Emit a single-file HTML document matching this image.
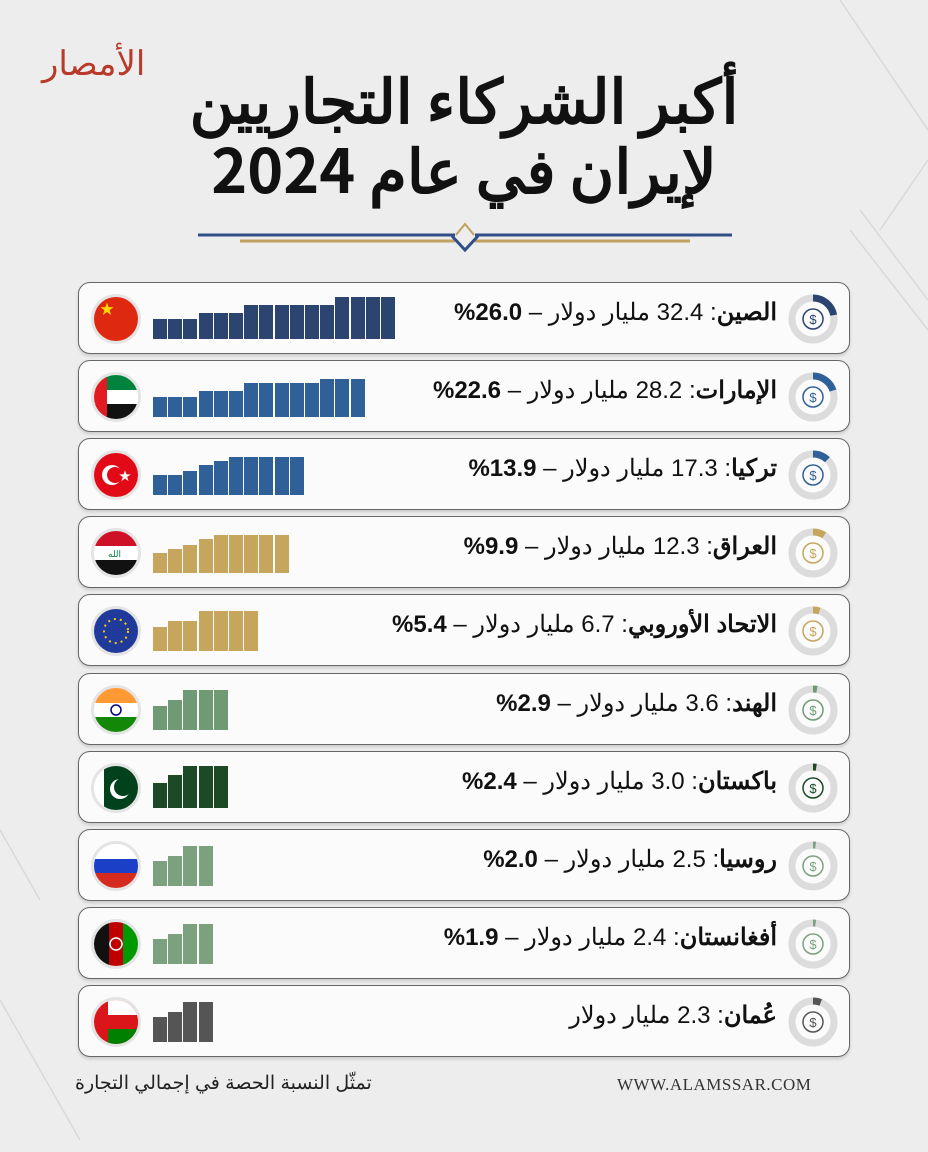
<!DOCTYPE html>
<html><head><meta charset="utf-8">
<style>
body{margin:0;width:928px;height:1152px;overflow:hidden;background:#ecedec;font-family:"Liberation Sans","Noto Sans CJK SC",sans-serif;position:relative}
.t{position:absolute;left:0;width:928px;text-align:center;font-weight:bold;color:#111;font-size:61px;direction:rtl;font-family:"Noto Sans CJK SC","Liberation Sans",sans-serif}
.card{position:absolute;left:78px;width:770px;height:70px;background:#fbfbfb;border:1.5px solid #666;border-radius:12px;box-shadow:0 2px 3px rgba(0,0,0,.15)}
.txt{position:absolute;right:72px;top:15px;font-size:24px;direction:rtl;color:#111;white-space:nowrap;font-family:"Liberation Sans","Noto Sans CJK SC",sans-serif}
.bar{position:absolute;bottom:14px;width:14px}
.flag{position:absolute;left:12px;top:11px;width:44px;height:44px;border-radius:50%;overflow:hidden;border:3px solid #e4e4e4}
.don{position:absolute;left:708px;top:10px}
</style></head><body>
<svg style="position:absolute;left:0;top:0" width="928" height="1152">
<g stroke="#d8d9d8" fill="none" stroke-width="1.5">
<path d="M840 0 L928 130"/><path d="M860 210 L928 300"/><path d="M850 230 L928 330"/><path d="M880 230 L928 160"/>
<path d="M0 830 L40 900"/><path d="M0 1000 L80 1140"/></g>
<line x1="198" y1="235" x2="455" y2="235" stroke="#2f4f86" stroke-width="3"/>
<line x1="475" y1="235" x2="732" y2="235" stroke="#2f4f86" stroke-width="3"/>
<line x1="240" y1="241" x2="455" y2="241" stroke="#c2a060" stroke-width="3"/>
<line x1="475" y1="241" x2="690" y2="241" stroke="#c2a060" stroke-width="3"/>
<path d="M452 236 L465 250 L478 236" stroke="#2f4f86" stroke-width="3" fill="none"/>
<path d="M456 235 L465 224 L474 235" stroke="#c2a060" stroke-width="2" fill="none"/>
</svg>
<div style="position:absolute;left:42px;top:36px;font-size:34px;color:#b73a2a;font-family:'Noto Sans CJK SC',sans-serif;direction:rtl">الأمصار</div>
<div class="t" style="top:62px;line-height:70px">أكبر الشركاء التجاريين</div>
<div class="t" style="top:132px;line-height:70px">لإيران في عام 2024</div>
<div id="rows"></div>
<div style="position:absolute;left:75px;top:1072px;font-size:19px;direction:rtl;color:#222">تمثّل النسبة الحصة في إجمالي التجارة</div>
<div style="position:absolute;left:617px;top:1075px;font-size:17px;font-family:'Liberation Serif',serif;color:#333;letter-spacing:0.5px">WWW.ALAMSSAR.COM</div>
<script>
const R=[
["الصين",": 32.4 مليار دولار – 26.0%","#2c4470",[20,20,20,26,26,26,34,34,34,34,34,34,42,42,42,42],.22,"#2c4470",'<rect width="44" height="44" fill="#de2910"/><text x="6" y="17" font-size="14" fill="#ffde00">★</text>'],
["الإمارات",": 28.2 مليار دولار – 22.6%","#2f6198",[20,20,20,26,26,26,34,34,34,34,34,38,38,38],.2,"#2f6198",'<rect width="44" height="15" fill="#00843d"/><rect y="15" width="44" height="14" fill="#fff"/><rect y="29" width="44" height="15" fill="#111"/><rect width="13" height="44" fill="#e21b23"/>'],
["تركيا",": 17.3 مليار دولار – 13.9%","#2f6198",[20,20,24,30,34,38,38,38,38,38],.12,"#2f6198",'<rect width="44" height="44" fill="#e30a17"/><circle cx="18" cy="22" r="10" fill="#fff"/><circle cx="21" cy="22" r="8" fill="#e30a17"/><text x="25" y="27" font-size="12" fill="#fff">★</text>'],
["العراق",": 12.3 مليار دولار – 9.9%","#c6a55c",[20,24,28,34,38,38,38,38,38],.09,"#c6a55c",'<rect width="44" height="15" fill="#ce1126"/><rect y="15" width="44" height="14" fill="#fff"/><rect y="29" width="44" height="15" fill="#111"/><text x="14" y="26" font-size="9" fill="#007a3d">الله</text>'],
["الاتحاد الأوروبي",": 6.7 مليار دولار – 5.4%","#c6a55c",[24,30,30,40,40,40,40],.05,"#c6a55c",'<rect width="44" height="44" fill="#1f3a9a"/><circle cx="22" cy="22" r="12" fill="none" stroke="#ffcc00" stroke-width="2" stroke-dasharray="2 4"/>'],
["الهند",": 3.6 مليار دولار – 2.9%","#6f9a74",[24,30,40,40,40],.03,"#6f9a74",'<rect width="44" height="15" fill="#ff9933"/><rect y="15" width="44" height="14" fill="#fff"/><rect y="29" width="44" height="15" fill="#138808"/><circle cx="22" cy="22" r="5" fill="none" stroke="#000080" stroke-width="1.5"/>'],
["باكستان",": 3.0 مليار دولار – 2.4%","#1c4a26",[25,33,42,42,42],.025,"#1c4a26",'<rect width="44" height="44" fill="#fff"/><rect x="10" width="34" height="44" fill="#01411c"/><circle cx="26" cy="23" r="10" fill="#fff"/><circle cx="29" cy="21" r="9" fill="#01411c"/>'],
["روسيا",": 2.5 مليار دولار – 2.0%","#7ba17f",[25,30,40,40],.02,"#7ba17f",'<rect width="44" height="15" fill="#fff"/><rect y="15" width="44" height="14" fill="#1c3fc8"/><rect y="29" width="44" height="15" fill="#d52b1e"/>'],
["أفغانستان",": 2.4 مليار دولار – 1.9%","#7ba17f",[25,30,40,40],.02,"#7ba17f",'<rect width="15" height="44" fill="#111"/><rect x="15" width="14" height="44" fill="#be0000"/><rect x="29" width="15" height="44" fill="#009900"/><circle cx="22" cy="22" r="6" fill="none" stroke="#fff" stroke-width="1.5"/>'],
["عُمان",": 2.3 مليار دولار","#555",[25,30,40,40],.06,"#555",'<rect width="44" height="44" fill="#db161b"/><rect x="14" y="29" width="30" height="15" fill="#008000"/><rect x="14" width="30" height="15" fill="#fff"/><rect x="14" y="15" width="30" height="14" fill="#db161b"/>']
];
let h='';
R.forEach((r,i)=>{
 const top=282+i*78.1;
 h+=`<div class="card" style="top:${top}px">`;
 h+=`<div class="flag"><svg width="44" height="44" viewBox="0 0 44 44">${r[6]}</svg></div>`;
 r[3].forEach((v,j)=>{h+=`<div class="bar" style="left:${74+j*15.2}px;height:${v}px;background:${r[2]}"></div>`});
 const c=2*Math.PI*21, a=c*r[4];
 h+=`<svg class="don" width="52" height="52"><circle cx="26" cy="26" r="21" fill="none" stroke="#dcdcdc" stroke-width="7"/><circle cx="26" cy="26" r="21" fill="none" stroke="${r[5]}" stroke-width="7" stroke-dasharray="${a} ${c}" transform="rotate(-90 26 26)"/><circle cx="26" cy="26" r="10" fill="none" stroke="${r[5]}" stroke-width="1.5"/><text x="26" y="31" text-anchor="middle" font-size="13" font-family="Liberation Sans" fill="${r[5]}">$</text></svg>`;
 h+=`<div class="txt"><b>${r[0]}</b>${r[1].replace(/– (.*)/,'– <b>$1</b>')}</div></div>`;
});
document.getElementById('rows').innerHTML=h;
</script>
</body></html>
